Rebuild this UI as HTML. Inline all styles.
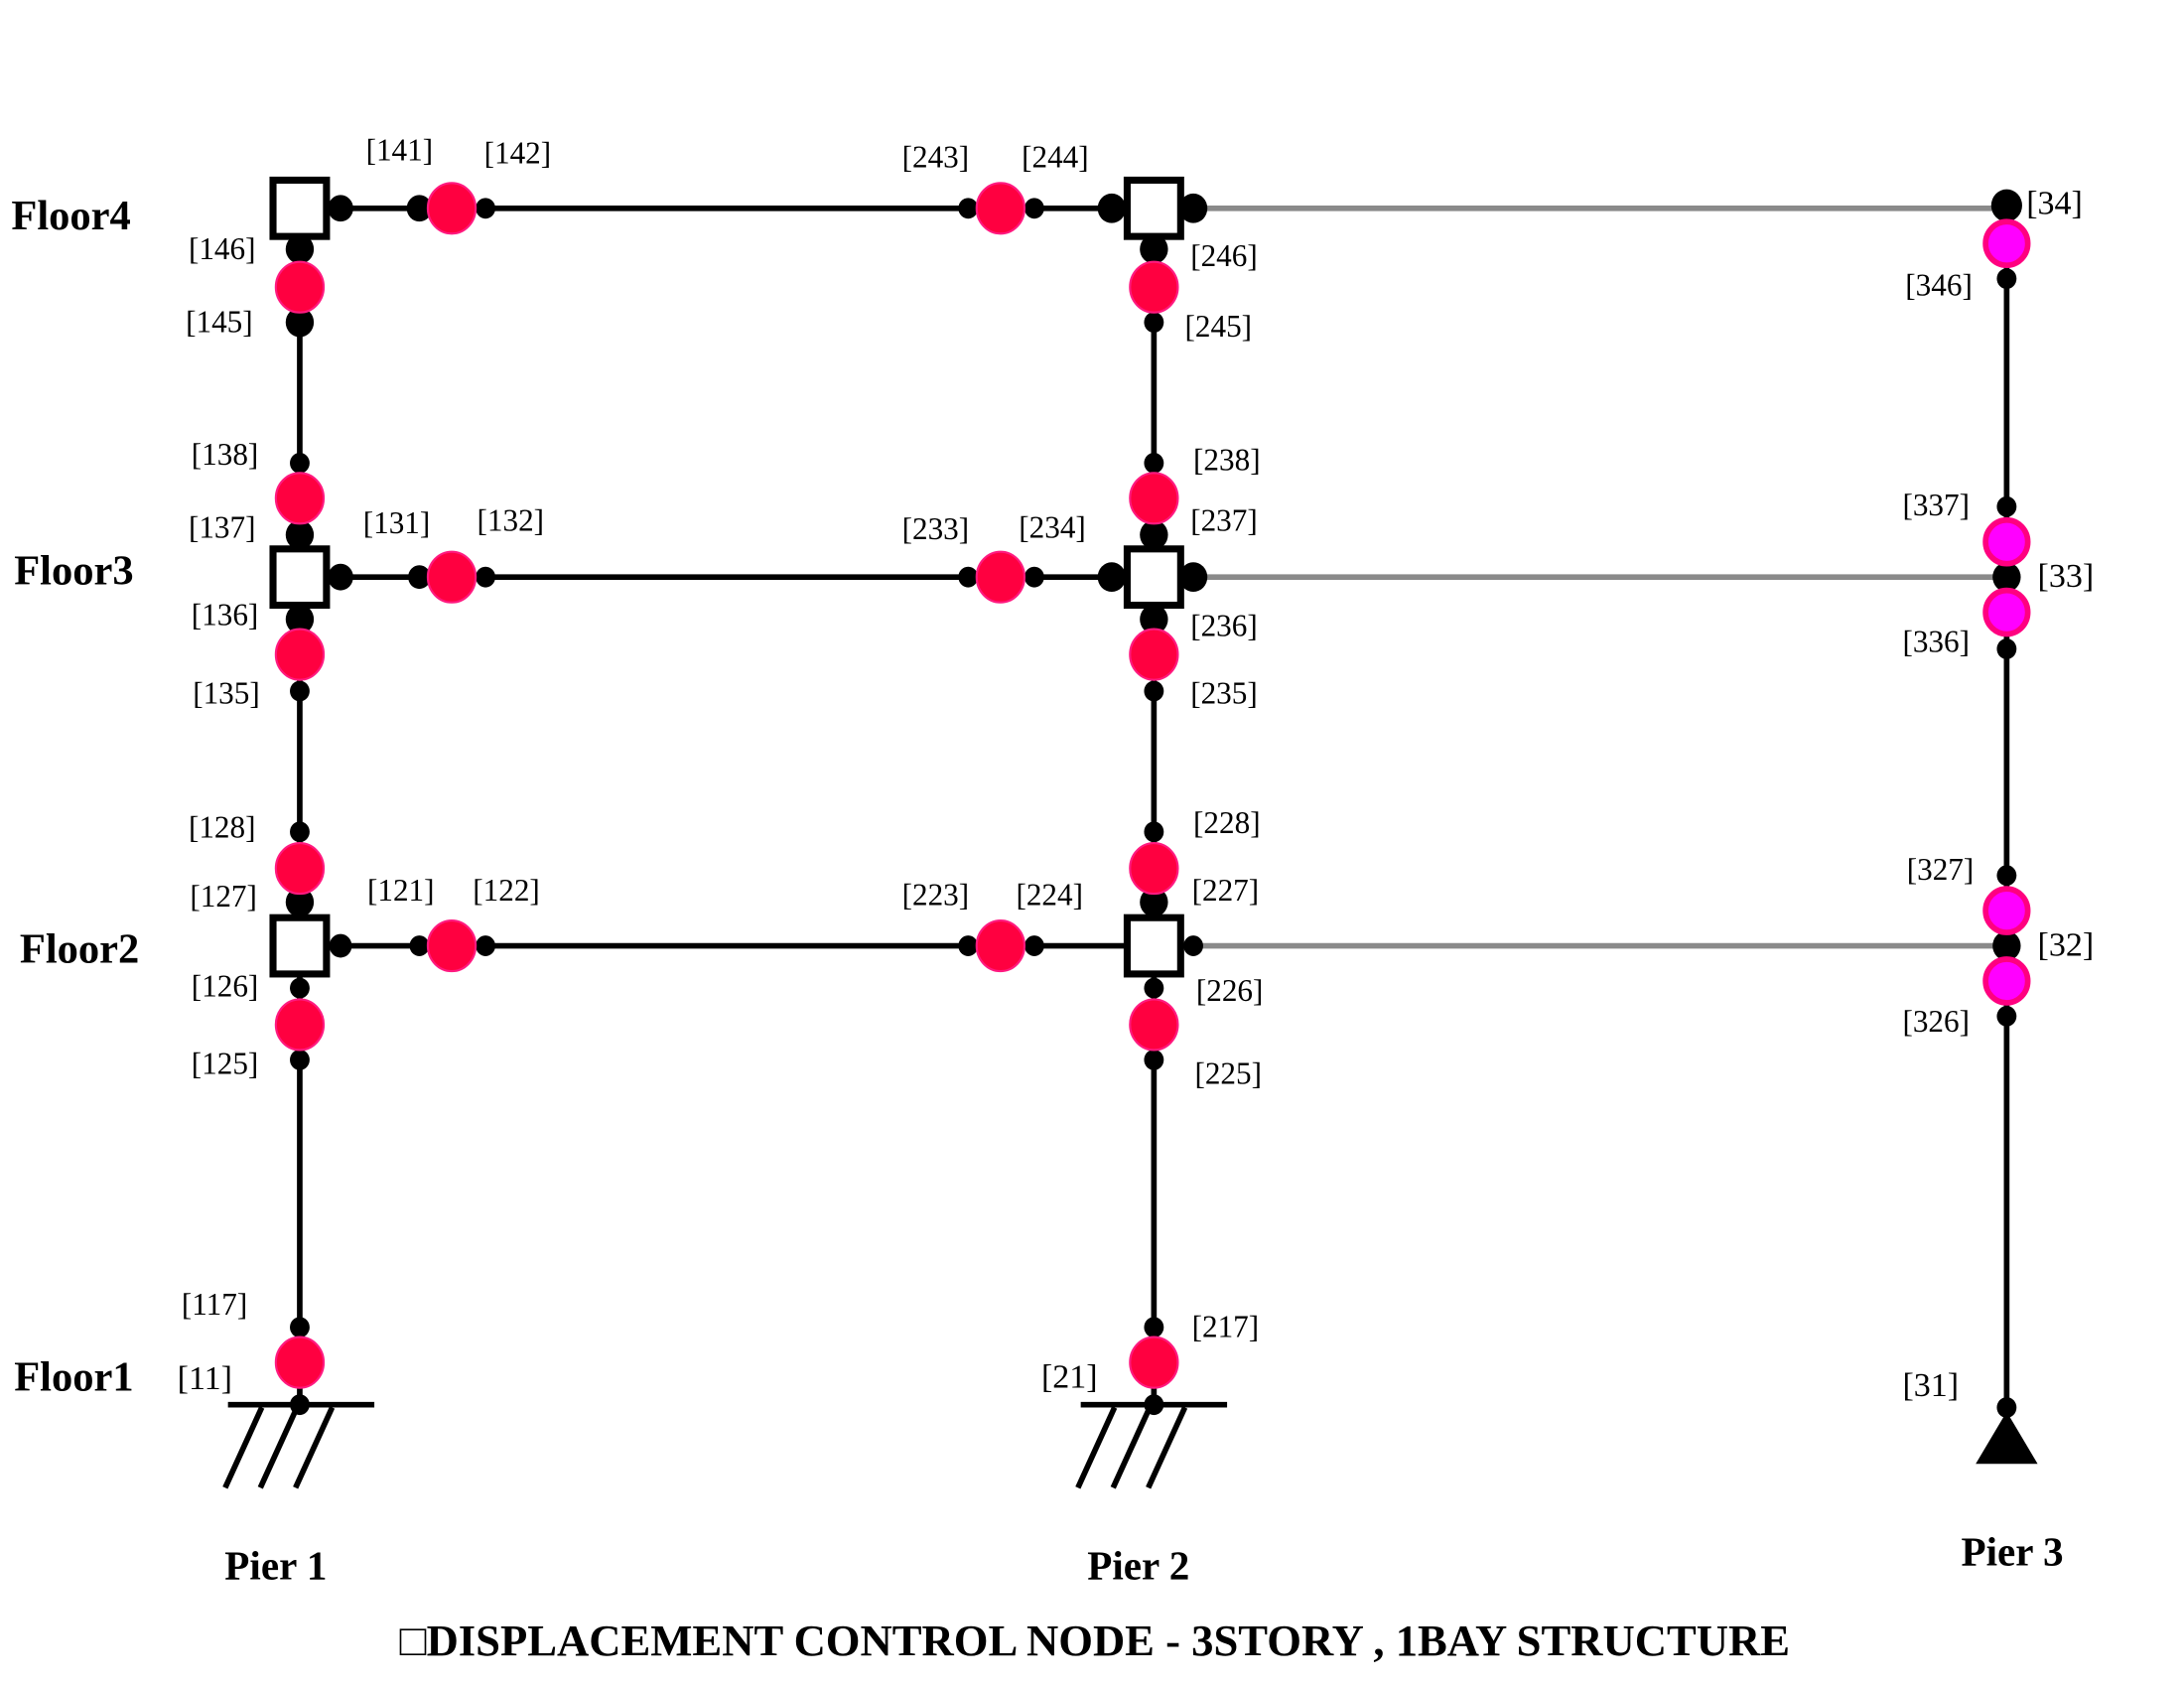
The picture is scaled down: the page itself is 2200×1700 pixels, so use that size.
<!DOCTYPE html>
<html><head><meta charset="utf-8"><style>
html,body{margin:0;padding:0;background:#fff;width:2200px;height:1700px;overflow:hidden}
svg{display:block}
text{font-family:"Liberation Serif",serif;fill:#000}
</style></head><body>
<svg id="fig" width="2200" height="1700" viewBox="0 0 1552 1199.3" xmlns="http://www.w3.org/2000/svg">
<g id="members"></g>
<g id="nodes"></g>
<g id="labels"></g>
<text x="8" y="163" font-size="30" font-weight="bold">Floor4</text>
<text x="10" y="415" font-size="30" font-weight="bold">Floor3</text>
<text x="14" y="684" font-size="30" font-weight="bold">Floor2</text>
<text x="10" y="988" font-size="30" font-weight="bold">Floor1</text>
<text x="196" y="1122" font-size="29" font-weight="bold" text-anchor="middle">Pier 1</text>
<text x="809" y="1122" font-size="29" font-weight="bold" text-anchor="middle">Pier 2</text>
<text x="1430" y="1112" font-size="29" font-weight="bold" text-anchor="middle">Pier 3</text>
<text x="778" y="1176" font-size="31.5" font-weight="bold" text-anchor="middle">□DISPLACEMENT CONTROL NODE - 3STORY , 1BAY STRUCTURE</text>
</svg>
<script>
const NS="http://www.w3.org/2000/svg";
const pierX=[213,820,1426];
const floorY=[998,672,410,148];
const blackLines=[[213,148,213,998],[820,148,820,998],[1426,148,1426,1000],[213,148,820,148],[213,410,820,410],[213,672,820,672],[162,998,266,998],[768,998,872,998],
[186,1000,160,1057],[211,1000,185,1057],[236,1000,210,1057],[792,1000,766,1057],[817,1000,791,1057],[842,1000,816,1057]];
const greyLines=[[848,148,1426,148],[848,410,1426,410],[848,672,1426,672]];
const blackNodes=[[242,148,9],[298,148,9],[345,148,7],[688,148,7],[735,148,7],[790,148,10],[848,148,10],
[242,410,9],[298,410,8],[345,410,7],[688,410,7],[735,410,7],[790,410,10],[848,410,10],
[242,672,8],[298,672,7],[345,672,7],[688,672,7],[735,672,7],[848,672,7],
[213,177,10],[213,229,10],[213,329,7],[213,380,10],[213,440,10],[213,491,7],[213,591,7],[213,641,10],[213,702,7],[213,753,7],[213,943,7],[213,998,7],
[820,177,10],[820,229,7],[820,329,7],[820,380,10],[820,440,10],[820,491,7],[820,591,7],[820,641,10],[820,702,7],[820,753,7],[820,943,7],[820,998,7],
[1426,146,11],[1426,198,7],[1426,360,7],[1426,410,10],[1426,461,7],[1426,622,7],[1426,672,10],[1426,722,7],[1426,1000,7]];
const pinkNodes=[[321,148],[711,148],[321,410],[711,410],[321,672],[711,672],
[213,204],[213,354],[213,465],[213,617],[213,728],[213,968],
[820,204],[820,354],[820,465],[820,617],[820,728],[820,968]];
const magentaNodes=[[1426,173],[1426,385],[1426,435],[1426,647],[1426,697]];
const squares=[[213,148],[820,148],[213,410],[820,410],[213,672],[820,672]];
const labelText=["[141]","[142]","[243]","[244]","[146]","[145]","[246]","[245]","[34]","[346]","[138]","[238]","[137]","[131]","[132]","[233]","[234]","[237]","[337]","[33]","[136]","[236]","[336]","[135]","[235]","[128]","[228]","[327]","[127]","[121]","[122]","[223]","[224]","[227]","[32]","[126]","[226]","[326]","[125]","[225]","[117]","[217]","[11]","[21]","[31]"];
const labelPos=[[260,114],[344,116],[641,119],[726,119],[134,184],[132,236],[846,189],[842,239],[1440,152],[1354,210],[136,330],[848,334],[134,382],[258,379],[339,377],[641,383],[724,382],[846,377],[1352,366],[1448,417],[136,444],[846,452],[1352,463],[137,500],[846,500],[134,595],[848,592],[1355,625],[135,644],[261,640],[336,640],[641,643],[722,643],[847,640],[1448,679],[136,708],[850,711],[1352,733],[136,763],[849,770],[129,934],[847,950],[126,987],[740,986],[1352,992]];
function mk(tag,attrs,parent){const e=document.createElementNS(NS,tag);for(const k in attrs)e.setAttribute(k,attrs[k]);parent.appendChild(e);return e;}
const gm=document.getElementById('members'),gn=document.getElementById('nodes'),gl=document.getElementById('labels');
greyLines.forEach(l=>{const e=mk('line',{x1:l[0],y1:l[1],x2:l[2],y2:l[3],stroke:'#8a8a8a','stroke-width':4},gm);

});
blackLines.forEach(l=>{const e=mk('line',{x1:l[0],y1:l[1],x2:l[2],y2:l[3],stroke:'#000','stroke-width':4},gm);

});
const tri=mk('polygon',{points:'1426,1003 1404,1040 1448,1040',fill:'#000'},gm);


blackNodes.forEach(n=>{const e=mk('ellipse',{cx:n[0],cy:n[1],rx:n[2],ry:n[2]*1.05,fill:'#000'},gn);

});
pinkNodes.forEach(n=>{const e=mk('ellipse',{cx:n[0],cy:n[1],rx:17,ry:18,fill:'#ff0040',stroke:'#ff1a80','stroke-width':1.5},gn);

});
magentaNodes.forEach(n=>{const e=mk('ellipse',{cx:n[0],cy:n[1],rx:15,ry:15.5,fill:'#ff00ff',stroke:'#ff0080','stroke-width':4},gn);

});
squares.forEach(s=>{const e=mk('rect',{x:s[0]-19,y:s[1]-20,width:38,height:40,fill:'#fff',stroke:'#000','stroke-width':5},gn);

});
labelText.forEach((t,i)=>{const p=labelPos[i];const big=["[34]","[33]","[32]","[21]","[11]","[31]"].includes(t);
const e=mk('text',{x:p[0],y:p[1],'font-size':big?24:22},gl);e.textContent=t;

});
</script>
</body></html>
